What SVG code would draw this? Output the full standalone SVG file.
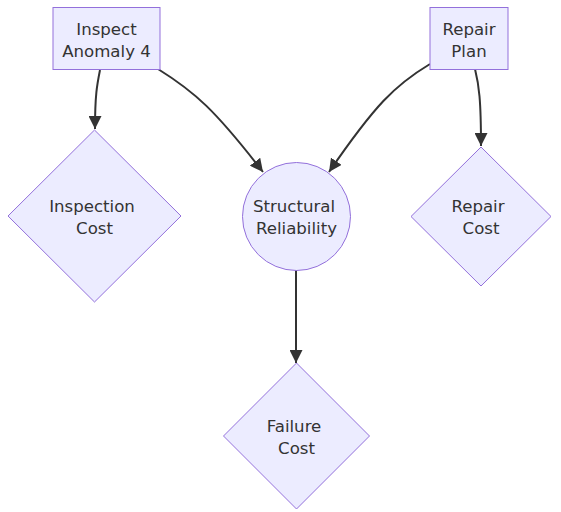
<svg xmlns="http://www.w3.org/2000/svg" width="561" height="512" viewBox="0 0 561 512">
<style>
.node{fill:#ECECFF;stroke:#9370DB;stroke-width:1px}
.lbl{font-family:"DejaVu Sans","Liberation Sans",sans-serif;font-size:16.6px;fill:#333;text-anchor:middle}
.edge{fill:none;stroke:#333;stroke-width:2px}
</style>
<defs>
<marker id="arrow" viewBox="0 0 10 10" refX="10" refY="5" markerUnits="userSpaceOnUse" markerWidth="13" markerHeight="13" orient="auto">
<path d="M0,0 L10,5 L0,10 z" fill="#333"/>
</marker>
</defs>
<rect width="561" height="512" fill="#fff"/>
<g id="connectors">
<path class="edge" d="M100,70 C97,85 95,95 95,129" marker-end="url(#arrow)"/>
<path class="edge" d="M158,69 C195,92 215,110 263,172" marker-end="url(#arrow)"/>
<path class="edge" d="M430,64 C395,85 375,105 329,172" marker-end="url(#arrow)"/>
<path class="edge" d="M475,69 C479,85 481,100 481,146" marker-end="url(#arrow)"/>
<path class="edge" d="M296,270 L296,363" marker-end="url(#arrow)"/>
</g>
<g id="inspect">
<rect class="node" x="53" y="7.5" width="107" height="62"/>
<text class="lbl" x="106.5" y="35">Inspect</text>
<text class="lbl" x="106.5" y="57">Anomaly 4</text>
</g>
<g id="repairplan">
<rect class="node" x="430" y="7.5" width="78" height="62"/>
<text class="lbl" x="469" y="35">Repair</text>
<text class="lbl" x="469" y="57">Plan</text>
</g>
<g id="inspectioncost">
<polygon class="node" points="94.5,130 181,216 94.5,302 8,216"/>
<text class="lbl" x="92" y="212">Inspection</text>
<text class="lbl" x="94.5" y="234">Cost</text>
</g>
<g id="reliability">
<circle class="node" cx="296.5" cy="216.5" r="54"/>
<text class="lbl" x="294" y="212">Structural</text>
<text class="lbl" x="296.5" y="234">Reliability</text>
</g>
<g id="repaircost">
<polygon class="node" points="481,147 551,216.5 481,286 411,216.5"/>
<text class="lbl" x="478" y="212">Repair</text>
<text class="lbl" x="481" y="234">Cost</text>
</g>
<g id="failurecost">
<polygon class="node" points="296.5,363 369.5,436 296.5,509 223.5,436"/>
<text class="lbl" x="294" y="432">Failure</text>
<text class="lbl" x="296.5" y="454">Cost</text>
</g>
</svg>
